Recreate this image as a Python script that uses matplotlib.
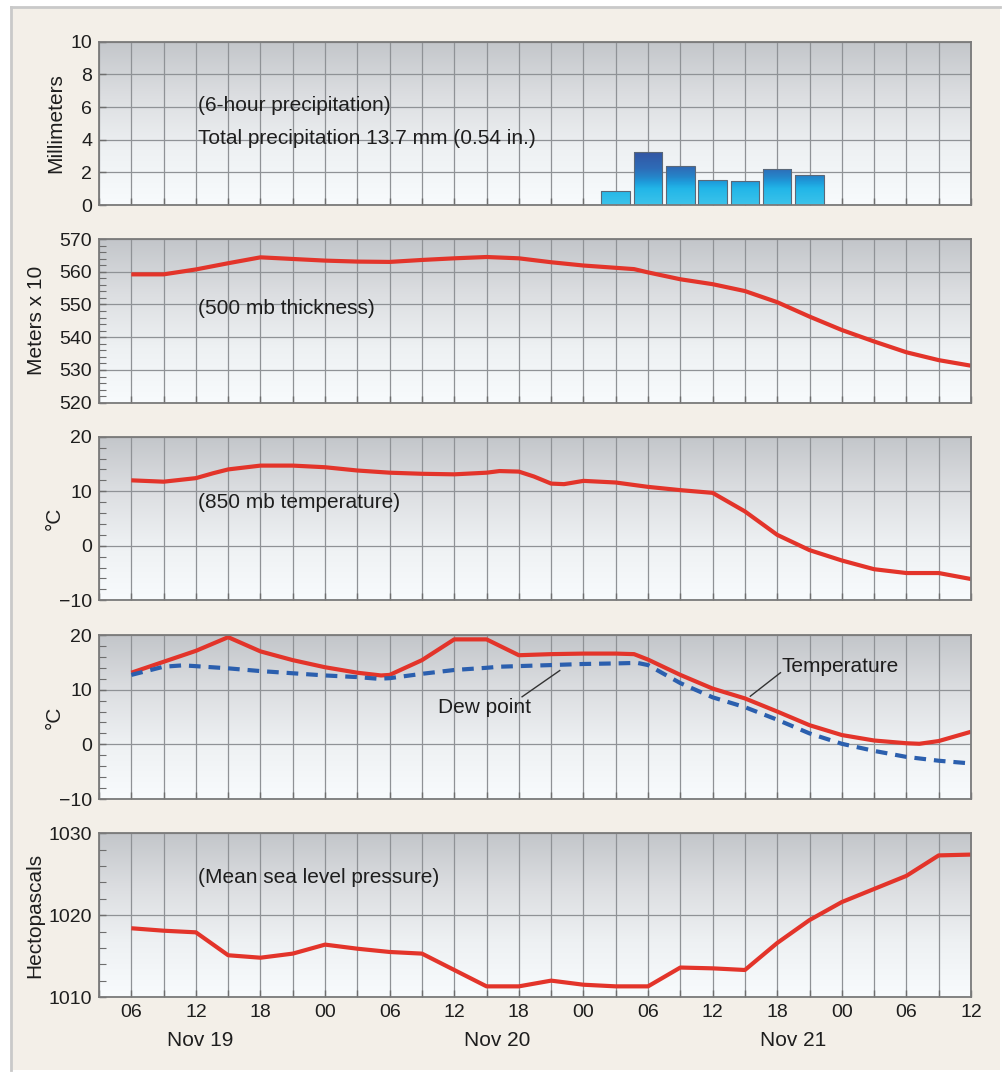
import numpy as np
import matplotlib.pyplot as plt
import matplotlib.transforms as mtransforms
from matplotlib.colors import LinearSegmentedColormap
from matplotlib.patches import Rectangle
from matplotlib.ticker import MultipleLocator

plt.rcParams['font.family'] = ['Liberation Sans', 'DejaVu Sans']

# hours counted from Nov 19 00 UTC
precip_hours = [51, 54, 57, 60, 63, 66, 69]
precip_mm = [0.84, 3.22, 2.41, 1.55, 1.47, 2.18, 1.86]

thick_hours = [6, 9, 12, 15, 18, 21, 24, 27, 30, 33, 36, 39, 42, 45, 48, 51,
               52.7, 54, 57, 60, 63, 66, 69, 72, 75, 78, 81, 84]
thick_dam = [559.2, 559.2, 560.7, 562.6, 564.4, 563.9, 563.4, 563.1, 563.0,
             563.6, 564.1, 564.5, 564.1, 562.9, 561.9, 561.2, 560.8, 559.8,
             557.7, 556.2, 554.1, 550.7, 546.3, 542.2, 538.7, 535.4, 533.0, 531.3]

t850_hours = [6, 9, 12, 13.6, 15, 18, 21, 24, 27, 30, 33, 36, 39, 40.2, 42,
              43.4, 45, 46.2, 48, 51, 54, 57, 60, 63, 66, 69, 72, 75, 78, 81, 84]
t850_c = [12.0, 11.75, 12.4, 13.3, 14.0, 14.7, 14.7, 14.4, 13.8, 13.4, 13.2,
          13.1, 13.4, 13.7, 13.6, 12.7, 11.4, 11.3, 11.9, 11.6, 10.8, 10.2, 9.7,
          6.3, 2.0, -0.8, -2.7, -4.3, -5.0, -5.0, -6.1]

temp_hours = [6, 9, 12, 15, 18, 21, 24, 27, 29.2, 30, 33, 36, 39, 42, 45, 48,
              51, 52.7, 54, 57, 60, 63, 66, 69, 72, 75, 78, 79.2, 81, 84]
temp_c = [13.1, 15.1, 17.1, 19.6, 17.0, 15.4, 14.1, 13.1, 12.6, 12.7, 15.4,
          19.2, 19.2, 16.3, 16.5, 16.6, 16.6, 16.5, 15.5, 12.7, 10.2, 8.4, 6.0,
          3.5, 1.7, 0.7, 0.2, 0.1, 0.6, 2.3]

dew_hours = [6, 9, 10.8, 12, 15, 18, 21, 24, 27, 28.9, 30, 33, 36, 39, 40.2,
             45, 48, 51, 53, 54, 57, 60, 63, 66, 69, 72, 75, 78, 81, 84]
dew_c = [12.7, 14.2, 14.45, 14.3, 13.9, 13.4, 13.0, 12.6, 12.3, 12.0, 12.1,
         12.9, 13.6, 14.0, 14.2, 14.5, 14.7, 14.8, 14.9, 14.5, 11.2, 8.6, 6.8,
         4.5, 2.0, 0.1, -1.2, -2.3, -3.0, -3.5]

slp_hours = [6, 9, 12, 15, 18, 21, 24, 27, 30, 33, 36, 39, 42, 45, 48, 51, 54,
             57, 60, 63, 66, 69, 72, 75, 78, 81, 84]
slp_hpa = [1018.4, 1018.1, 1017.9, 1015.1, 1014.8, 1015.3, 1016.4, 1015.9,
           1015.5, 1015.3, 1013.3, 1011.3, 1011.3, 1012.0, 1011.5, 1011.3,
           1011.3, 1013.6, 1013.5, 1013.3, 1016.6, 1019.4, 1021.6, 1023.2,
           1024.8, 1027.3, 1027.4]

tick_hours = list(range(3, 85, 3))
tick_labels = ['', '06', '', '12', '', '18', '', '00', '', '06', '', '12', '',
               '18', '', '00', '', '06', '', '12', '', '18', '', '00', '', '06',
               '', '12']
day_labels = ['Nov 19', 'Nov 20', 'Nov 21']
day_label_hours = [12.4, 40.0, 67.5]

W, H = 1005, 1072
RED = '#e3342a'
BLUE = '#2b5fae'
FS = 14      # tick labels
FT = 15      # other text
TXT = '#1e1e1e'

fig = plt.figure(figsize=(W / 100, H / 100), dpi=100)
fig.patch.set_facecolor('white')
fig.patches.append(Rectangle((11 / W, 1 - 1070 / H), 989 / W, 1063 / H,
                             transform=fig.transFigure, facecolor='#f3efe8',
                             edgecolor='none', zorder=-10))
fig.lines.append(plt.Line2D([11 / W, 1000 / W], [1 - 7 / H, 1 - 7 / H],
                            transform=fig.transFigure, color='#c9c9c9', lw=2))
fig.lines.append(plt.Line2D([11 / W, 11 / W], [1 - 1070 / H, 1 - 7 / H],
                            transform=fig.transFigure, color='#c9c9c9', lw=2))

bg = LinearSegmentedColormap.from_list(
    'bg', ['#f8fbfd', '#eef1f3', '#dcdee1', '#c3c6ca'])
grad = np.linspace(0, 1, 256).reshape(-1, 1)


def make_axes(top, bottom, ylim, major, minor):
    ax = fig.add_axes([99 / W, 1 - bottom / H, 872 / W, (bottom - top) / H])
    ax.imshow(grad, extent=[0, 1, 0, 1], transform=ax.transAxes,
              aspect='auto', cmap=bg, origin='lower', zorder=0)
    ax.set_xlim(3, 84)
    ax.set_ylim(*ylim)
    ax.set_xticks(tick_hours)
    ax.set_xticklabels([])
    ax.yaxis.set_major_locator(MultipleLocator(major))
    if minor:
        ax.yaxis.set_minor_locator(MultipleLocator(minor))
    ax.grid(True, which='major', color='#8f9296', lw=0.9, zorder=1)
    ax.tick_params(which='both', direction='in', color='#6e6e6e',
                   labelsize=FS, labelcolor=TXT, pad=5)
    ax.tick_params(which='major', length=5, width=1)
    ax.tick_params(which='minor', length=5, width=0.8)
    for s in ax.spines.values():
        s.set_color('#7a7a7a')
        s.set_linewidth(1.3)
        s.set_zorder(5)
    return ax


def label(ax, text, xr):
    ax.set_ylabel(text, fontsize=FT, color=TXT)
    ax.yaxis.set_label_coords(xr, 0.5)


def note(ax, x, y, text):
    ax.text(x, y, text, transform=ax.transAxes, fontsize=FT, va='center',
            color=TXT)


# precipitation
ax1 = make_axes(41.7, 205, (0, 10), 2, None)
label(ax1, 'Millimeters', -0.039)
bar_cmap = LinearSegmentedColormap.from_list(
    'bars', [(0.0, '#3cc3ea'), (0.3, '#22b6e8'), (0.42, '#1e9cdb'),
             (0.52, '#2585c9'), (0.68, '#2e6cb7'), (1.0, '#3354a2')])
bars = ax1.bar(precip_hours, precip_mm, width=2.65, color='none',
               edgecolor='#5b6878', lw=0.8, zorder=4)
for b, h in zip(bars, precip_mm):
    x0 = b.get_x()
    im = ax1.imshow(np.linspace(0, h, 100).reshape(-1, 1), origin='lower',
                    extent=[x0, x0 + b.get_width(), 0, h], aspect='auto',
                    cmap=bar_cmap, vmin=0, vmax=3.3, zorder=3)
    im.set_clip_path(b)
ax1.set_xlim(3, 84)
ax1.set_ylim(0, 10)
note(ax1, 0.1135, 0.612, '(6-hour precipitation)')
note(ax1, 0.1135, 0.41, 'Total precipitation 13.7 mm (0.54 in.)')

# 500 mb thickness
ax2 = make_axes(239, 402.7, (520, 570), 10, 2)
label(ax2, 'Meters x 10', -0.061)
ax2.plot(thick_hours, thick_dam, color=RED, lw=3, solid_capstyle='butt',
         solid_joinstyle='round', zorder=4)
note(ax2, 0.1135, 0.578, '(500 mb thickness)')

# 850 mb temperature
ax3 = make_axes(436.7, 600.3, (-10, 20), 10, 2)
label(ax3, '°C', -0.040)
ax3.set_yticks([-10, 0, 10, 20])
ax3.set_yticklabels(['\u221210', '0', '10', '20'])
ax3.plot(t850_hours, t850_c, color=RED, lw=3, solid_capstyle='butt',
         solid_joinstyle='round', zorder=4)
note(ax3, 0.1135, 0.60, '(850 mb temperature)')

# surface temperature and dew point
ax4 = make_axes(635, 799, (-10, 20), 10, 2)
label(ax4, '°C', -0.040)
ax4.set_yticks([-10, 0, 10, 20])
ax4.set_yticklabels(['\u221210', '0', '10', '20'])
ax4.plot(temp_hours, temp_c, color=RED, lw=3, solid_capstyle='butt',
         solid_joinstyle='round', zorder=4)
ax4.plot(dew_hours, dew_c, color=BLUE, lw=3, dashes=(2.8, 1.9), zorder=4)
ax4.plot([42.3, 45.8], [8.7, 13.5], color='#333333', lw=1, zorder=4)
ax4.plot([63.5, 66.3], [8.8, 13.1], color='#333333', lw=1, zorder=4)
ax4.text(34.5, 6.8, 'Dew point', fontsize=FT, va='center', color=TXT,
         zorder=6)
ax4.text(66.4, 14.2, 'Temperature', fontsize=FT, va='center', color=TXT,
         zorder=6)

# sea level pressure
ax5 = make_axes(833.3, 997, (1010, 1030), 10, 2)
label(ax5, 'Hectopascals', -0.063)
ax5.plot(slp_hours, slp_hpa, color=RED, lw=3, solid_capstyle='butt',
         solid_joinstyle='round', zorder=4)
note(ax5, 0.1135, 0.727, '(Mean sea level pressure)')
ax5.set_xticklabels(tick_labels)
ax5.tick_params(axis='x', pad=5)
trans = mtransforms.blended_transform_factory(ax5.transData, ax5.transAxes)
for h, t in zip(day_label_hours, day_labels):
    ax5.text(h, -0.268, t, transform=trans, ha='center', va='center',
             fontsize=FT, color=TXT)

fig.savefig('out.png', dpi=100)
